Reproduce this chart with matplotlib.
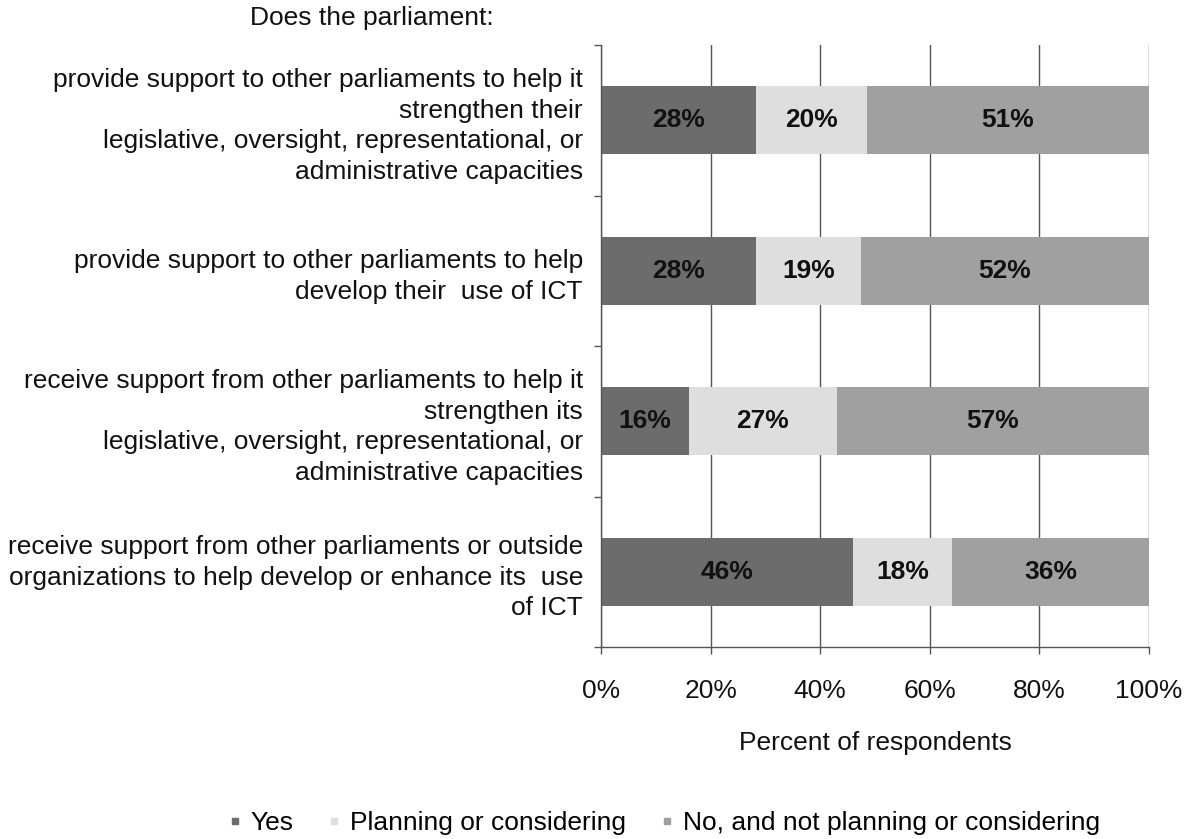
import matplotlib
matplotlib.use("Agg")
import matplotlib.pyplot as plt
from matplotlib.lines import Line2D
import numpy as np

plt.rcParams['font.family'] = ['Liberation Sans', 'DejaVu Sans']

# Survey questions (top to bottom)
questions = [
    "provide support to other parliaments to help it\nstrengthen their\n"
    "legislative, oversight, representational, or\nadministrative capacities",
    "provide support to other parliaments to help\ndevelop their  use of ICT",
    "receive support from other parliaments to help it\nstrengthen its\n"
    "legislative, oversight, representational, or\nadministrative capacities",
    "receive support from other parliaments or outside\n"
    "organizations to help develop or enhance its  use\nof ICT",
]

series_names = ["Yes", "Planning or considering",
                "No, and not planning or considering"]

yes_pct = [28, 28, 16, 46]
planning_pct = [20, 19, 27, 18]
no_pct = [51, 52, 57, 36]

x_ticks = [0, 20, 40, 60, 80, 100]
x_tick_labels = ["0%", "20%", "40%", "60%", "80%", "100%"]

colors = ["#6c6c6c", "#dedede", "#a0a0a0"]

FS = 19

fig = plt.figure(figsize=(11.98, 8.39), dpi=100)
ax = fig.add_axes([601 / 1198, 1 - 647 / 839, 548 / 1198, 602 / 839])

values = np.array([yes_pct, planning_pct, no_pct], dtype=float)
totals = values.sum(axis=0)
shares = values / totals * 100  # 100% stacked

y = np.arange(len(questions))
left = np.zeros(len(questions))
for k, name in enumerate(series_names):
    ax.barh(y, shares[k], left=left, height=0.45, color=colors[k],
            edgecolor='none', zorder=2, label=name)
    for i in range(len(questions)):
        ax.text(left[i] + shares[k][i] / 2, y[i], f"{int(values[k][i])}%",
                ha='center', va='center', fontsize=FS, fontweight='bold',
                color='#111111', zorder=3)
    left += shares[k]

ax.set_xlim(0, 100)
ax.set_ylim(len(questions) - 0.5, -0.5)

# Vertical gridlines
ax.set_xticks(x_ticks)
ax.set_xticklabels(x_tick_labels, fontsize=FS)
ax.xaxis.grid(True, color='#555555', linewidth=1.0, zorder=1)
ax.set_axisbelow(True)
ax.tick_params(axis='x', length=5, width=1, color='#555555', pad=18,
               labelcolor='#111111')

# Category labels at bar centres, boundary ticks on the left spine
ax.set_yticks(y)
ax.set_yticklabels(questions, fontsize=FS, linespacing=1.35, color='#111111')
ax.set_yticks(np.arange(-0.5, len(questions) + 0.5, 1.0), minor=True)
ax.tick_params(axis='y', which='major', length=0, pad=13)
ax.tick_params(axis='y', which='minor', length=5, width=1, color='#555555')

for side in ['top', 'right']:
    ax.spines[side].set_visible(False)
for side in ['left', 'bottom']:
    ax.spines[side].set_color('#555555')
    ax.spines[side].set_linewidth(1.0)

ax.set_xlabel("Percent of respondents", fontsize=FS, labelpad=20,
              color='#111111')

fig.text(250 / 1198, 1 - 18 / 839, "Does the parliament:", fontsize=FS,
         ha='left', va='center', color='#111111')

handles = [Line2D([], [], marker='s', linestyle='none', markersize=5,
                  color=c) for c in colors]
fig.legend(handles, series_names, loc='center', ncol=3, frameon=False,
           bbox_to_anchor=(664 / 1198, 1 - 823 / 839), fontsize=FS,
           handlelength=0.5, handletextpad=0.35, columnspacing=1.3)

fig.savefig("out.png", dpi=100, facecolor='white')
